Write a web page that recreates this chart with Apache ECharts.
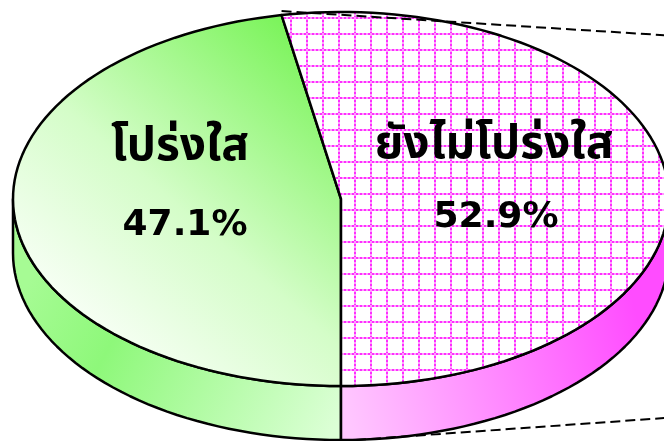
<!DOCTYPE html>
<html>
<head>
<meta charset="utf-8">
<script src="https://cdn.jsdelivr.net/npm/echarts@6/dist/echarts.min.js"></script>
<style>
  html, body { margin: 0; padding: 0; background: #fff; }
  #chart { width: 664px; height: 441px; }
</style>
</head>
<body>
<div id="chart"></div>
<script>
// data
const categories = ["โปร่งใส", "ยังไม่โปร่งใส"];
const shares = [47.1, 52.9];

// 3D pie geometry (pixels)
const CX = 341, CY = 199, RX = 328, RY = 187, DEPTH = 54;
const START = 180; // first slice starts at 6 o'clock, runs clockwise

const total = shares.reduce((s, v) => s + v, 0);
const rad = (d) => d * Math.PI / 180;
const pt = (deg, dy = 0) => [CX + RX * Math.sin(rad(deg)), CY - RY * Math.cos(rad(deg)) + dy];

function arc(a0, a1, dy) {
    const pts = [];
    const n = Math.max(2, Math.ceil(Math.abs(a1 - a0) / 2));
    for (let i = 0; i <= n; i++) pts.push(pt(a0 + (a1 - a0) * i / n, dy));
    return pts;
}

function gridPattern() {
    const c = document.createElement("canvas");
    c.width = 16; c.height = 16;
    const g = c.getContext("2d");
    g.fillStyle = "#fff";
    g.fillRect(0, 0, 16, 16);
    for (let i = 0; i < 16; i += 4) {
        g.fillStyle = "#ff2eff";
        g.fillRect(i, 1, 2, 2); g.fillRect(2, i, 2, 2);
        g.fillStyle = "#ff9cff";
        g.fillRect(i + 2, 1, 2, 2); g.fillRect(2, i + 2, 2, 2);
    }
    return c;
}

const topFill = [
    { type: "linear", x: 50, y: 340, x2: 320, y2: 30, global: true,
      colorStops: [{ offset: 0, color: "#ffffff" }, { offset: 0.45, color: "#d4fdc8" }, { offset: 1, color: "#74f352" }] },
    { image: gridPattern(), repeat: "repeat" }
];
const sideFill = [
    { type: "linear", x: 40, y: 260, x2: 340, y2: 420, global: true,
      colorStops: [{ offset: 0, color: "#a6fb94" }, { offset: 0.3, color: "#8ef87a" }, { offset: 1, color: "#dcffd6" }] },
    { type: "linear", x: 345, y: 400, x2: 640, y2: 330, global: true,
      colorStops: [{ offset: 0, color: "#ffc6ff" }, { offset: 1, color: "#ff4cff" }] }
];
const labelPos = [[180, 151, 185, 226], [494, 149, 496, 218]];

const chart = echarts.init(document.getElementById("chart"));

chart.setOption({
    animation: false,
    series: [{
        type: "custom",
        coordinateSystem: "none",
        data: shares.map((v, i) => ({ value: v, name: categories[i] })),
        renderItem: (params, api) => {
            const i = params.dataIndex;
            const before = shares.slice(0, i).reduce((s, v) => s + v, 0);
            const a0 = START + before / total * 360;
            const a1 = START + (before + shares[i]) / total * 360;
            const children = [];

            // visible side wall: bottom half of the ellipse (90..270 deg, mod 360)
            const segs = [];
            for (const base of [90, 450]) {
                const s0 = Math.max(a0, base), s1 = Math.min(a1, base + 180);
                if (s1 > s0) segs.push([s0, s1]);
            }
            segs.forEach(([s0, s1]) => {
                const pts = arc(s0, s1, 0).concat(arc(s1, s0, DEPTH));
                children.push({
                    type: "polygon",
                    shape: { points: pts },
                    style: { fill: sideFill[i], stroke: "#000", lineWidth: 2.5, lineJoin: "round" }
                });
            });

            // top face
            children.push({
                type: "polygon",
                shape: { points: [[CX, CY]].concat(arc(a0, a1, 0)) },
                style: { fill: topFill[i], stroke: "#000", lineWidth: 2.5, lineJoin: "round" }
            });

            // labels
            const lp = labelPos[i];
            children.push({
                type: "text", x: lp[0], y: lp[1],
                style: { text: categories[i], fill: "#000", align: "center", verticalAlign: "middle",
                         fontSize: 46, fontWeight: "bold", fontFamily: "Tahoma, 'Noto Sans Thai', 'DejaVu Sans', sans-serif" }
            });
            children.push({
                type: "text", x: lp[2], y: lp[3],
                style: { text: shares[i].toFixed(1) + "%", fill: "#000", align: "center", verticalAlign: "middle",
                         fontSize: 36, fontWeight: "bold", fontFamily: "'DejaVu Sans', Verdana, sans-serif" }
            });

            // connector lines toward the secondary (off-canvas) pie
            if (i === categories.length - 1) {
                const pTop = pt(a0, -4);
                const pBot = pt(a1, DEPTH + 1);
                children.push({
                    type: "line",
                    shape: { x1: pTop[0], y1: pTop[1], x2: 720, y2: pTop[1] + (720 - pTop[0]) * 0.063 },
                    style: { stroke: "#000", lineWidth: 2, lineDash: [10, 5] }
                });
                children.push({
                    type: "line",
                    shape: { x1: pBot[0], y1: pBot[1], x2: 720, y2: pBot[1] - (720 - pBot[0]) * 0.071 },
                    style: { stroke: "#000", lineWidth: 2, lineDash: [10, 5] }
                });
            }
            return { type: "group", children };
        }
    }]
});
</script>
</body>
</html>
